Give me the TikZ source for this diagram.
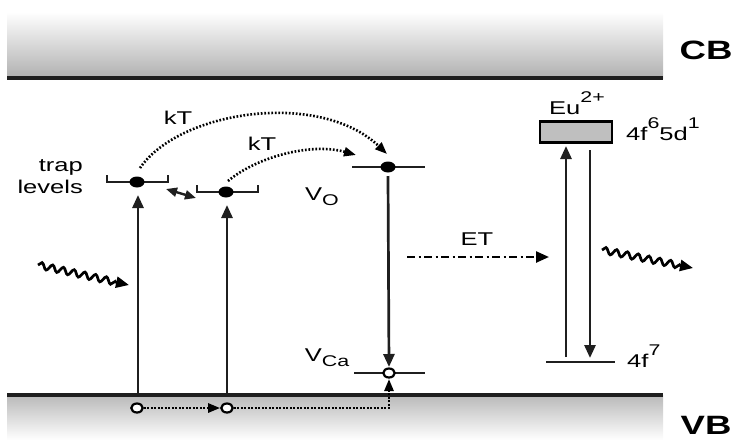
\documentclass[tikz,border=0pt]{standalone}
\usepackage{fontspec}
\setmainfont[FakeStretch=1.38]{Liberation Sans}
\usetikzlibrary{arrows.meta,decorations.pathmorphing,calc,shapes.geometric}
\definecolor{ink}{gray}{0.12}
\newcommand{\supx}[1]{\raisebox{0.62em}{\fontsize{15.5}{15.5}\selectfont #1}}
\newcommand{\subx}[1]{\raisebox{-0.3em}{\fontsize{15.5}{15.5}\selectfont #1}}
\begin{document}
\begin{tikzpicture}[x=1pt,y=-1pt,
  lvl/.style={draw=ink,line width=2.7pt},
  tip/.style={-{Triangle[length=13pt,width=11pt]}},
  tipsm/.style={-{Triangle[length=12pt,width=9pt]}},
  fulldot/.style={ellipse,fill=black,inner sep=0pt,minimum width=15pt,minimum height=11pt},
  opendot/.style={ellipse,draw=black,fill=white,line width=2.2pt,inner sep=0pt,minimum width=11.5pt,minimum height=9pt},
  lbl/.style={font=\fontsize{18.5}{22}\selectfont,inner sep=0pt},
  band/.style={font=\fontsize{26.5}{28}\selectfont\bfseries,inner sep=0pt},
  wave/.style={line width=2.7pt,decorate,decoration={snake,amplitude=3.2pt,segment length=11pt,post length=11pt}},
  trans/.style={draw=ink,line width=2.7pt,tip},
  dots/.style={line width=2.6pt,dash pattern=on 1.7pt off 1.8pt,tipsm}
]
\useasboundingbox (0,0) rectangle (736,440);
% bands
\shade[top color=white,bottom color=gray!62] (7,12) rectangle (663,78);
\draw[line width=3.2pt,ink] (7,78) -- (663,78);
\shade[top color=gray!55,bottom color=white] (7,395) rectangle (663,440);
\draw[line width=3.2pt,ink] (7,395) -- (663,395);
\node[band] (cb) at (706,50) {CB};
\node[band] (vb) at (706,425) {VB};
% trap levels
\draw[lvl] (107,175) -- (107,182) -- (168,182) -- (168,175);
\draw[lvl] (197,185) -- (197,192) -- (258,192) -- (258,185);
\node[fulldot] (t1) at (137,182) {};
\node[fulldot] (t2) at (226,192) {};
\node[lbl,align=right,anchor=east] (trap) at (83,177) {trap\\levels};
% V_O level
\draw[lvl] (352,167) -- (425,167);
\node[fulldot] (vo) at (388,167) {};
\node[lbl,anchor=base] (volbl) at (322,200) {V\subx{O}};
% V_Ca level
\draw[lvl] (354,373) -- (425,373);
\node[opendot] (vca) at (389,373) {};
\node[lbl,anchor=base] (vcalbl) at (327,361) {V\subx{Ca}};
% VB holes
\node[opendot] (h1) at (137,408) {};
\node[opendot] (h2) at (227,408) {};
\coordinate (corner) at (389,408);
% excitations
\coordinate (b1) at (138,395);
\coordinate (b2) at (227,395);
\draw[trans] (b1) -- (138,195);
\draw[trans] (b2) -- (227,205);
% exchange between traps
\coordinate (x1) at (166,189);
\coordinate (x2) at (196,198);
\draw[draw=ink,line width=2.4pt,{Triangle[length=11pt,width=9pt]}-{Triangle[length=11pt,width=9pt]}] (x1) -- (x2);
% kT arcs
\draw[dots] ($(t1)+(3,-14)$) .. controls (180,110) and (320,90) .. ($(vo)+(-1,-13)$);
\node[lbl] (kt1) at (178,118) {kT};
\draw[dots] ($(t2)+(2,-11)$) .. controls (255,158) and (310,142) .. ($(vo)+(-32,-12)$);
\node[lbl] (kt2) at (262,144) {kT};
% V_O to V_Ca
\draw[trans] ($(vo)+(0,9)$) -- ($(vca)+(0,-6)$);
% hole migration
\draw[dots] (h1) -- (h2);
\draw[dots] (h2) -- (corner) -- ($(vca)+(0,6)$);
% ET
\coordinate (et1) at (407,257);
\coordinate (et2) at (549,257);
\draw[line width=2.4pt,dash pattern=on 8pt off 3.5pt on 2pt off 3.5pt,tip] (et1) -- (et2);
\node[lbl] (etlbl) at (477,239) {ET};
% Eu levels
\node[draw=black,fill=gray!50,line width=2.7pt,minimum width=72pt,minimum height=21pt,inner sep=0pt] (d5) at (576,132) {};
\node[lbl,anchor=base west] (eu) at (549,114) {Eu\supx{2+}};
\node[lbl,anchor=base west] (d5lbl) at (626,140) {4f\supx{6}5d\supx{1}};
\draw[lvl] (546,362) -- (615,362);
\coordinate (f7) at (580,362);
\node[lbl,anchor=base west] (f7lbl) at (627,367) {4f\supx{7}};
\draw[trans] (566,357) -- (566,146);
\draw[trans] (590,150) -- (590,358);
% photons
\draw[wave,tip] (38,265) -- (129,285);
\draw[wave,tip] (602,250) -- (693,268);
\end{tikzpicture}
\end{document}
